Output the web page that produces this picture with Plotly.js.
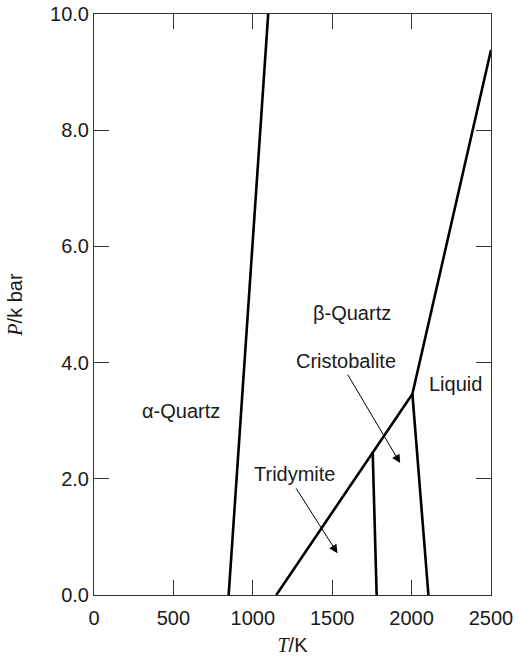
<!DOCTYPE html>
<html><head><meta charset="utf-8">
<script src="https://cdn.plot.ly/plotly-3.0.1.min.js"></script>
<style>body{margin:0;background:#fff}#chart{width:518px;height:656px}</style>
</head><body><div id="chart"></div>
<script>
// Phase boundaries (T in K, P in kbar)
const alphaBetaT = [848, 1097];
const alphaBetaP = [0, 10];
const quartzTridCristLiqT = [1148, 2005, 2500];
const quartzTridCristLiqP = [0, 3.46, 9.38];
const tridCristT = [1755, 1780];
const tridCristP = [2.46, 0];
const cristLiqT = [2005, 2106];
const cristLiqP = [3.46, 0];

// Region labels
const labelText = ["α-Quartz", "β-Quartz", "Cristobalite", "Liquid", "Tridymite"];
const labelT = [545, 1624, 1585, 2274, 1261];
const labelP = [3.17, 4.85, 4.02, 3.64, 2.08];

// Arrows: tail -> head
const arrowTailT = [1592, 1267];
const arrowTailP = [3.82, 1.86];
const arrowHeadT = [1928, 1533];
const arrowHeadP = [2.27, 0.72];

const xTicks = [0, 500, 1000, 1500, 2000, 2500];
const yTicks = [0, 2, 4, 6, 8, 10];

const lineStyle = {color: '#000', width: 2.6};
const mk = (x, y) => ({x, y, mode: 'lines', line: lineStyle, hoverinfo: 'skip', showlegend: false});
const data = [
  mk(alphaBetaT, alphaBetaP),
  mk(quartzTridCristLiqT, quartzTridCristLiqP),
  mk(tridCristT, tridCristP),
  mk(cristLiqT, cristLiqP)
];

const font = {family: 'Liberation Sans, Arial, sans-serif', size: 20, color: '#1a1a1a'};
const annotations = [];
labelText.forEach((t, i) => annotations.push({
  x: labelT[i], y: labelP[i], xref: 'x', yref: 'y', text: t, showarrow: false,
  font: font, xanchor: 'center', yanchor: 'middle'
}));
arrowTailT.forEach((t, i) => annotations.push({
  x: arrowHeadT[i], y: arrowHeadP[i], ax: t, ay: arrowTailP[i],
  xref: 'x', yref: 'y', axref: 'x', ayref: 'y', text: '', showarrow: true,
  arrowhead: 2, arrowsize: 1.7, arrowwidth: 1, arrowcolor: '#000'
}));

const axisCommon = {
  showgrid: false, zeroline: false, showline: true, linecolor: '#333', linewidth: 1,
  mirror: 'ticks', ticks: 'inside', ticklen: 15, tickwidth: 1, tickcolor: '#333',
  tickfont: font
};

const layout = {
  width: 518, height: 656,
  margin: {l: 94, r: 27, t: 14, b: 61},
  paper_bgcolor: '#fff', plot_bgcolor: '#fff',
  font: font,
  xaxis: Object.assign({}, axisCommon, {
    range: [0, 2500], tickvals: xTicks, ticktext: xTicks.map(String),
    ticklabelstandoff: 5,
    title: {text: "<span style='font-family:Liberation Serif;font-style:italic'>T</span>/K", font: font, standoff: 10}
  }),
  yaxis: Object.assign({}, axisCommon, {
    range: [0, 10], tickvals: yTicks, ticktext: yTicks.map(v => v.toFixed(1)),
    title: {text: "<span style='font-family:Liberation Serif;font-style:italic'>P</span>/k bar", font: font, standoff: 22}
  }),
  annotations: annotations
};

Plotly.newPlot('chart', data, layout, {displayModeBar: false, staticPlot: true});
</script>
</body></html>
